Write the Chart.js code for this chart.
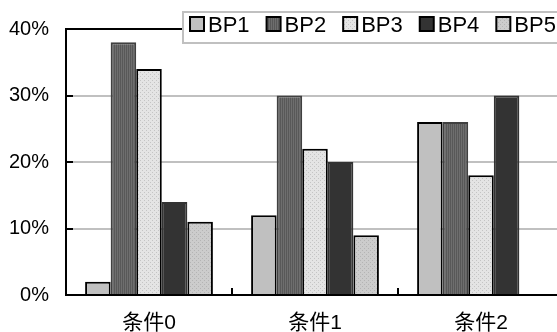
<!DOCTYPE html>
<html>
<head>
<meta charset="utf-8">
<script src="https://cdn.jsdelivr.net/npm/chart.js@4"></script>
<style>
  html, body { margin: 0; padding: 0; background: #fff; overflow: hidden; }
  #wrap { width: 600px; height: 332px; position: relative; }
</style>
</head>
<body>
<div id="wrap"><canvas id="bp-chart"></canvas></div>
<script>
const categories = ['条件0', '条件1', '条件2'];
const seriesNames = ['BP1', 'BP2', 'BP3', 'BP4', 'BP5'];
const bp1 = [2, 12, 26];
const bp2 = [38, 30, 26];
const bp3 = [34, 22, 18];
const bp4 = [14, 20, 30];
const bp5 = [11, 9, 0];
const yTicks = [0, 10, 20, 30, 40];

const fontFamily = '"Liberation Sans", Arial, "Noto Sans CJK SC", sans-serif';

// small canvas patterns for the textured bars
function makePattern(base, dot, type) {
    const c = document.createElement('canvas');
    c.width = 4;
    c.height = 4;
    const g = c.getContext('2d');
    g.fillStyle = base;
    g.fillRect(0, 0, 4, 4);
    g.fillStyle = dot;
    if (type === 'stripes') {
        g.fillRect(0, 0, 1, 4);
        g.fillRect(2, 0, 1, 4);
    } else {
        g.fillRect(0, 0, 1, 1);
        g.fillRect(2, 2, 1, 1);
    }
    return g.createPattern(c, 'repeat');
}

const fills = [
    '#c0c0c0',
    makePattern('#6e6e6e', '#585858', 'stripes'),
    makePattern('#e4e4e4', '#c4c4c4', 'dots'),
    '#333333',
    makePattern('#cccccc', '#b4b4b4', 'dots'),
];
const borders = ['#000', '#404040', '#000', '#333', '#000'];
const values = [bp1, bp2, bp3, bp4, bp5];

const datasets = seriesNames.map((name, i) => ({
    label: name,
    data: values[i],
    backgroundColor: fills[i],
    borderColor: borders[i],
    borderWidth: 2,
    borderSkipped: 'bottom',
    categoryPercentage: 0.77,
    barPercentage: 1.0,
}));

// frame, inner tick marks and the boxed legend
const decorations = {
    id: 'decorations',
    afterDatasetsDraw(chart) {
        const ctx = chart.ctx;
        const area = chart.chartArea;
        const x = chart.scales.x;
        const y = chart.scales.y;
        ctx.save();
        ctx.strokeStyle = '#000';
        ctx.lineWidth = 2;
        ctx.beginPath();
        ctx.moveTo(area.left, area.top);
        ctx.lineTo(area.right, area.top);
        yTicks.forEach(v => {
            const py = Math.round(y.getPixelForValue(v));
            ctx.moveTo(area.left, py);
            ctx.lineTo(area.left + 7, py);
        });
        for (let i = 0; i < categories.length - 1; i++) {
            const px = Math.round((x.getPixelForValue(i) + x.getPixelForValue(i + 1)) / 2);
            ctx.moveTo(px, area.bottom);
            ctx.lineTo(px, area.bottom - 7);
        }
        ctx.stroke();

        // legend box
        const boxLeft = 183, boxTop = 12, boxHeight = 31;
        ctx.fillStyle = '#fff';
        ctx.fillRect(boxLeft, boxTop, 500, boxHeight);
        ctx.strokeStyle = '#c0c0c0';
        ctx.strokeRect(boxLeft, boxTop, 500, boxHeight);
        ctx.font = '22px ' + fontFamily;
        ctx.textBaseline = 'middle';
        let lx = 190;
        chart.data.datasets.forEach(ds => {
            ctx.fillStyle = ds.backgroundColor;
            ctx.fillRect(lx, 17, 14, 14);
            ctx.strokeStyle = '#000';
            ctx.lineWidth = 2;
            ctx.strokeRect(lx, 17, 14, 14);
            ctx.fillStyle = '#000';
            ctx.fillText(ds.label, lx + 18, 25.5);
            lx += 18 + ctx.measureText(ds.label).width + 17;
        });
        ctx.restore();
    }
};

const ctx = document.getElementById('bp-chart').getContext('2d');
const myChart = new Chart(ctx, {
    type: 'bar',
    data: {
        labels: categories,
        datasets: datasets,
    },
    options: {
        responsive: true,
        maintainAspectRatio: false,
        animation: false,
        layout: {
            padding: { top: 28, right: 36, left: 0, bottom: 0 },
        },
        plugins: {
            legend: { display: false },
            tooltip: { enabled: false },
        },
        scales: {
            x: {
                offset: true,
                grid: { display: false },
                border: { display: true, color: '#000', width: 2 },
                ticks: {
                    color: '#000',
                    padding: 8,
                    font: { family: fontFamily, size: 21 },
                },
                afterFit(scale) { scale.height = 37; },
            },
            y: {
                min: 0,
                max: 40,
                afterBuildTicks(scale) {
                    scale.ticks = yTicks.map(v => ({ value: v }));
                },
                grid: {
                    color: '#c0c0c0',
                    lineWidth: 2,
                    drawTicks: false,
                },
                border: { display: true, color: '#000', width: 2 },
                ticks: {
                    color: '#000',
                    padding: 17,
                    font: { family: fontFamily, size: 20 },
                    callback: v => v + '%',
                },
                afterFit(scale) { scale.width = 66; },
            },
        },
    },
    plugins: [decorations],
});
</script>
</body>
</html>
